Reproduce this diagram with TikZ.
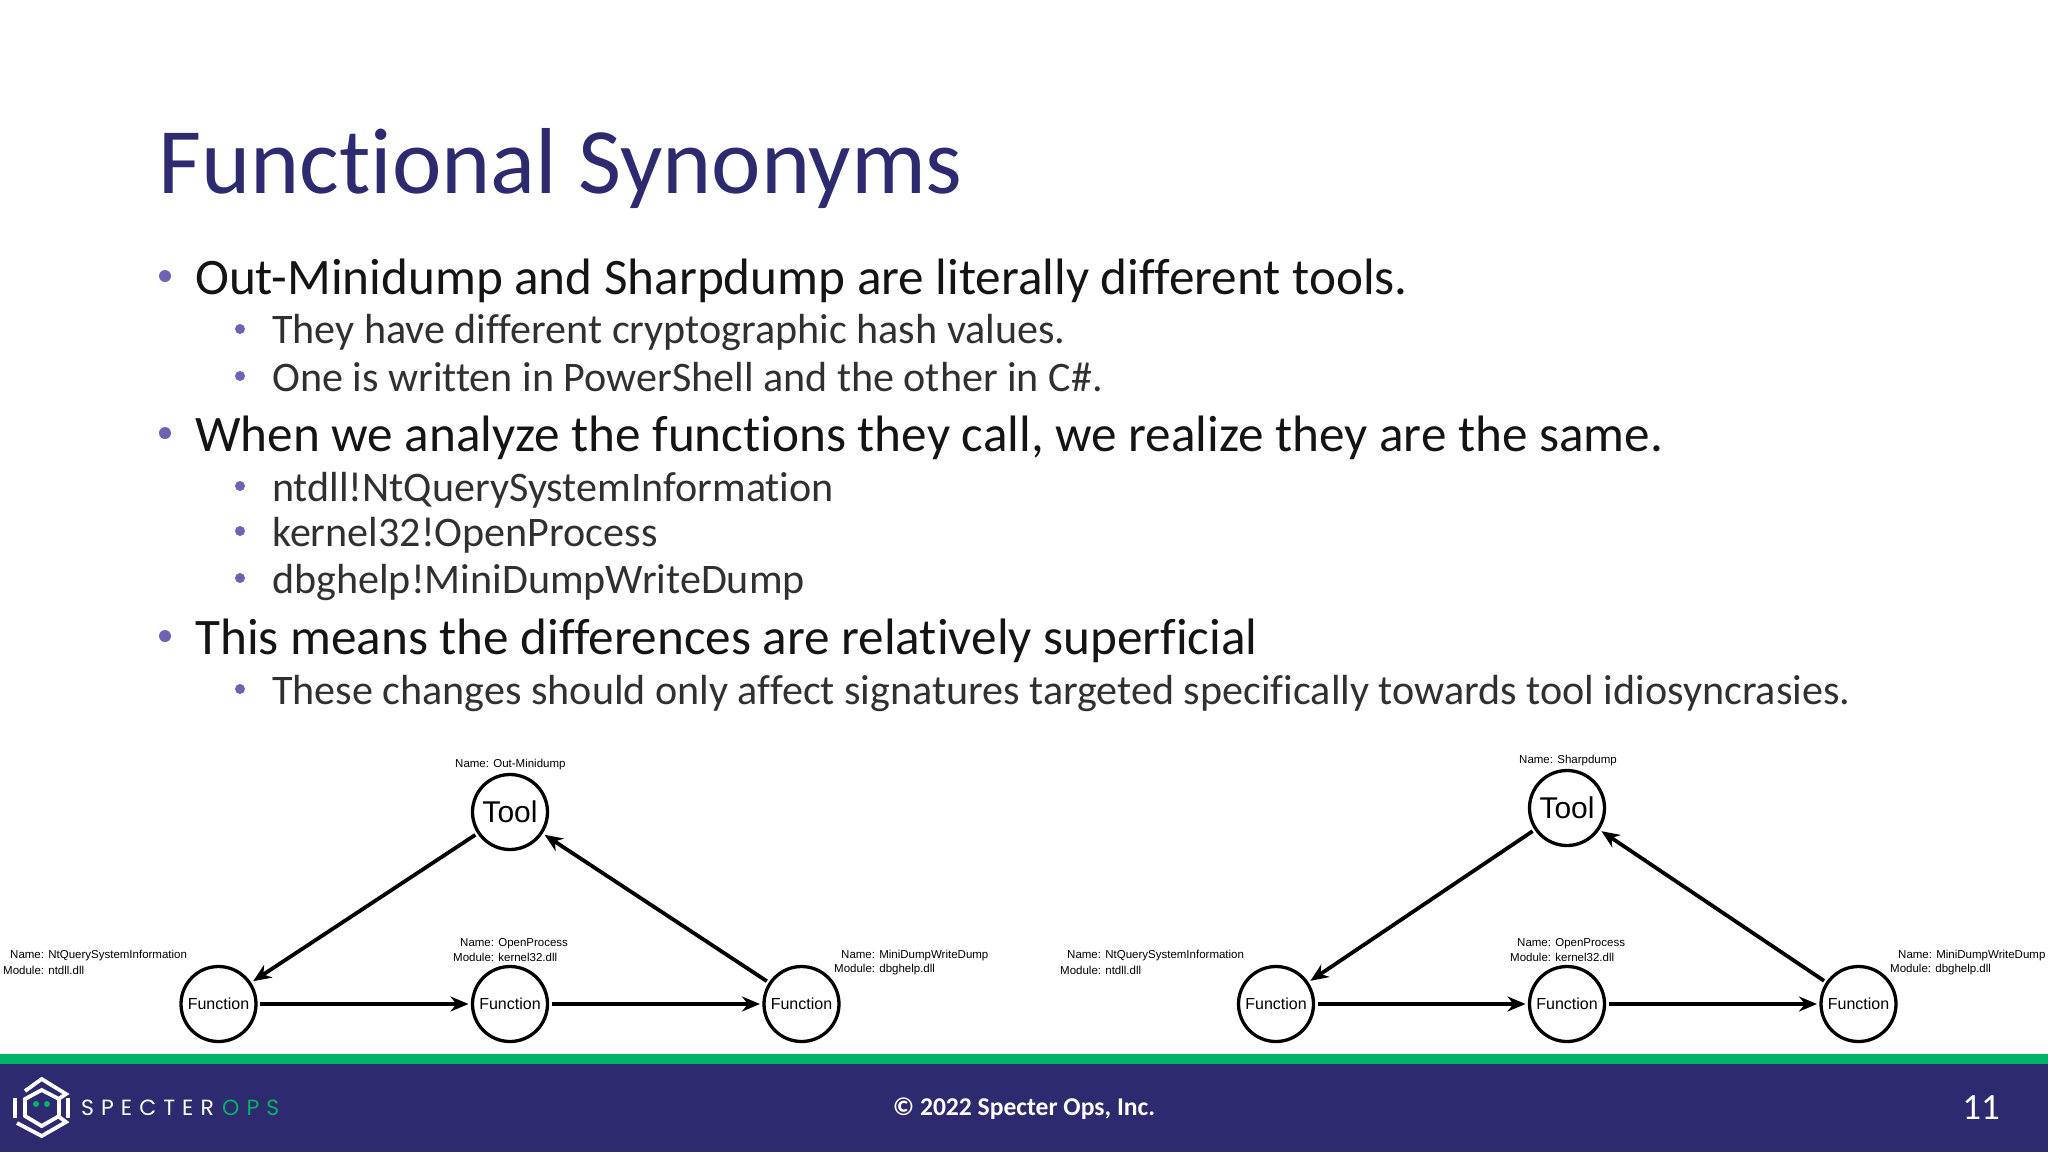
\documentclass[tikz,border=0pt]{standalone}
\usepackage{fontspec}
\setmainfont[Ligatures=NoCommon]{Carlito}
\newfontfamily\graphfont{Liberation Sans}
\newfontfamily\logofont[LetterSpace=32]{Poppins}
\definecolor{slidenavy}{HTML}{2E2A70}
\definecolor{slidegreen}{HTML}{00B369}
\definecolor{bulletviolet}{HTML}{6F62B4}
\definecolor{bodyblack}{HTML}{141414}
\definecolor{subgrey}{HTML}{303030}
\tikzset{
	title text/.style={anchor=base west, inner sep=0pt, text=slidenavy, font=\fontsize{93.7}{100}\selectfont},
	top text/.style={anchor=base west, inner sep=0pt, text=bodyblack, font=\fontsize{51.2}{58}\selectfont},
	sub text/.style={anchor=base west, inner sep=0pt, text=subgrey, font=\fontsize{42.1}{50}\selectfont},
	top dot/.style={circle, fill=bulletviolet, inner sep=0pt, minimum size=12pt},
	sub dot/.style={circle, fill=bulletviolet, inner sep=0pt, minimum size=10pt},
	tool node/.style={circle, draw, line width=3.3pt, minimum size=75pt, inner sep=0pt, outer sep=4pt, font=\graphfont\fontsize{30}{32}\selectfont},
	func node/.style={circle, draw, line width=3.3pt, minimum size=75pt, inner sep=0pt, outer sep=4pt, font=\graphfont\fontsize{16}{18}\selectfont},
	info text/.style={anchor=west, inner sep=0pt, font=\graphfont\fontsize{11.5}{13}\selectfont},
	call arrow/.style={-{Stealth[length=18pt,width=15pt]}, line width=3.8pt},
	logo line/.style={draw=white, line width=3.8pt},
}
\usetikzlibrary{arrows.meta}
\begin{document}
\begin{tikzpicture}[x=1pt, y=-1pt, line cap=butt]
	\useasboundingbox (0,0) rectangle (2048,1152);
	% footer
	\fill[slidenavy] (0,1064) rectangle (2048,1152);
	\fill[slidegreen] (0,1054) rectangle (2048,1064);
	% title and bullets
	\node[title text] (title) at (158,193) {Functional Synonyms};
	\node[top dot] (dota) at (165,276) {};
	\node[top text] (linea) at (195,294) {Out-Minidump and Sharpdump are literally different tools.};
	\node[sub dot] (dotb) at (240,329) {};
	\node[sub text] (lineb) at (272,343) {They have different cryptographic hash values.};
	\node[sub dot] (dotc) at (240,376) {};
	\node[sub text] (linec) at (272,391) {One is written in PowerShell and the other in C\#.};
	\node[top dot] (dotd) at (165,433) {};
	\node[top text] (lined) at (195,451) {When we analyze the functions they call, we realize they are the same.};
	\node[sub dot] (dote) at (240,486) {};
	\node[sub text] (linee) at (272,501) {ntdll!NtQuerySystemInformation};
	\node[sub dot] (dotf) at (240,531) {};
	\node[sub text] (linef) at (272,546) {kernel32!OpenProcess};
	\node[sub dot] (dotg) at (240,578) {};
	\node[sub text] (lineg) at (272,593) {dbghelp!MiniDumpWriteDump};
	\node[top dot] (doth) at (165,636) {};
	\node[top text] (lineh) at (195,654) {This means the differences are relatively superficial};
	\node[sub dot] (doti) at (240,689) {};
	\node[sub text] (linei) at (272,704) {These changes should only affect signatures targeted specifically towards tool idiosyncrasies.};
	% left graph
	\node[tool node] (toola) at (510,812) {Tool};
	\node[func node] (funcaa) at (218.5,1004) {Function};
	\node[func node] (funcab) at (510,1004) {Function};
	\node[func node] (funcac) at (801.5,1004) {Function};
	\draw[call arrow] (toola) -- (funcaa);
	\draw[call arrow] (funcaa) -- (funcab);
	\draw[call arrow] (funcab) -- (funcac);
	\draw[call arrow] (funcac) -- (toola);
	\node[info text] (namea) at (455,765) {Name: Out-Minidump};
	\node[info text] (nameaa) at (10,956) {Name: NtQuerySystemInformation};
	\node[info text] (modaa) at (3,970) {Module: ntdll.dll};
	\node[info text] (nameab) at (460,944) {Name: OpenProcess};
	\node[info text] (modab) at (453,957) {Module: kernel32.dll};
	\node[info text] (nameac) at (841,956) {Name: MiniDumpWriteDump};
	\node[info text] (modac) at (834,970) {Module: dbghelp.dll};
	% right graph
	\node[tool node] (toolb) at (1567,808) {Tool};
	\node[func node] (funcba) at (1276,1004) {Function};
	\node[func node] (funcbb) at (1567,1004) {Function};
	\node[func node] (funcbc) at (1858.5,1004) {Function};
	\draw[call arrow] (toolb) -- (funcba);
	\draw[call arrow] (funcba) -- (funcbb);
	\draw[call arrow] (funcbb) -- (funcbc);
	\draw[call arrow] (funcbc) -- (toolb);
	\node[info text] (nameb) at (1519,761) {Name: Sharpdump};
	\node[info text] (nameba) at (1067,956) {Name: NtQuerySystemInformation};
	\node[info text] (modba) at (1060,970) {Module: ntdll.dll};
	\node[info text] (namebb) at (1517,944) {Name: OpenProcess};
	\node[info text] (modbb) at (1510,957) {Module: kernel32.dll};
	\node[info text] (namebc) at (1898,956) {Name: MiniDumpWriteDump};
	\node[info text] (modbc) at (1890,970) {Module: dbghelp.dll};
	% logo
	\draw[logo line] (25,1091) -- (41.7,1079) -- (66,1094) -- (60,1098);
	\draw[logo line] (17,1123) -- (41.7,1136) -- (66,1122) -- (58,1116);
	\draw[logo line] (15,1098) -- (15,1118);
	\draw[logo line] (68,1098) -- (68,1118);
	\draw[logo line] (41.7,1090) -- (59,1099) -- (59,1116) -- (41.7,1126) -- (25,1116) -- (25,1099) -- cycle;
	\fill[slidegreen] (36,1104) circle (3pt) (47,1104) circle (3pt);
	\node[anchor=base west, inner sep=0pt, text=white, font=\logofont\fontsize{22}{25}\selectfont] (logoa) at (81,1115) {SPECTER};
	\node[anchor=base west, inner sep=0pt, text=slidegreen, font=\logofont\fontsize{22}{25}\selectfont] (logob) at (222,1115) {OPS};
	% footer text
	\node[text=white, inner sep=0pt, font=\bfseries\fontsize{25.6}{28}\selectfont] (copyright) at (1024,1109) {© 2022 Specter Ops, Inc.};
	\node[text=white, inner sep=0pt, font=\fontsize{37}{40}\selectfont] (pagenum) at (1981,1108) {11};
\end{tikzpicture}
\end{document}
